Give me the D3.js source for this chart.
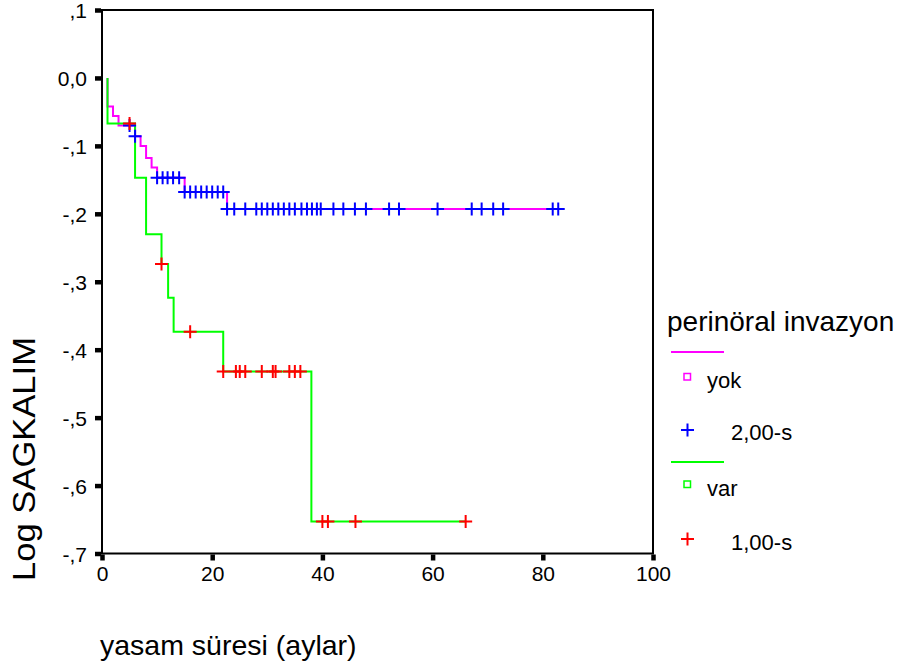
<!DOCTYPE html>
<html>
<head>
<meta charset="utf-8">
<script src="https://cdn.jsdelivr.net/npm/d3@7"></script>
<style>
  body { margin: 0; background: #fff; }
  text { font-family: Arial, "Liberation Sans", sans-serif; fill: #000; }
</style>
</head>
<body>
<div id="chart"></div>
<script>
// log survival step data
var yokTimes = [1, 2, 3, 6, 7, 8, 9, 10, 15, 22.7];
var yokLogS = [-0.042, -0.056, -0.070, -0.086, -0.100, -0.118, -0.132, -0.147, -0.168, -0.193];
var yokCensored = [5, 6, 10, 11, 11.9, 12.9, 14, 15, 16, 17, 18, 19, 20, 21, 22, 22.7,
  24, 26, 28, 29, 30, 31, 32, 33, 34, 35, 36.2, 37.2, 38.1, 39, 39.7, 42, 43.8, 45.9,
  47.9, 52.1, 53.9, 60.9, 67.1, 68.9, 71, 72.8, 81.8, 82.8];

var varTimes = [1, 6, 8, 10.8, 12, 13, 22, 38];
var varLogS = [-0.067, -0.147, -0.230, -0.274, -0.3235, -0.3735, -0.432, -0.653];
var varCensored = [5, 10.8, 16, 22, 24.3, 25, 26, 29, 31, 31.5, 34, 35, 36, 40, 41, 46, 66];

var yTicks = [0.1, 0, -0.1, -0.2, -0.3, -0.4, -0.5, -0.6, -0.7];
var yTickLabels = [",1", "0,0", "-,1", "-,2", "-,3", "-,4", "-,5", "-,6", "-,7"];
var xTicks = [0, 20, 40, 60, 80, 100];

var legendTitle = "perinöral invazyon";
var legendLabels = ["yok", "2,00-s", "var", "1,00-s"];

var width = 901, height = 669;
var svg = d3.select("#chart").append("svg")
  .attr("width", width)
  .attr("height", height);

svg.append("rect").attr("width", width).attr("height", height).attr("fill", "#fff");

// scales
var x = d3.scaleLinear().domain([0, 100]).range([102, 653]);
var y = d3.scaleLinear().domain([-0.7, 0.1]).range([553.5, 10]);

// frame
svg.append("rect")
  .attr("x", x(0)).attr("y", y(0.1))
  .attr("width", x(100) - x(0)).attr("height", y(-0.7) - y(0.1))
  .attr("fill", "none").attr("stroke", "#000").attr("stroke-width", 2);

// axes
var yAxis = d3.axisLeft(y)
  .tickValues(yTicks)
  .tickSize(6)
  .tickSizeOuter(0)
  .tickPadding(8)
  .tickFormat(function(d, i) { return yTickLabels[i]; });

var gy = svg.append("g").attr("transform", "translate(" + (x(0) - 1) + ",0)").call(yAxis);
gy.select(".domain").remove();
gy.selectAll(".tick line").attr("stroke-width", 4.5);
gy.selectAll(".tick text").style("font-size", "21px").attr("dy", "0.36em");

var xAxis = d3.axisBottom(x)
  .tickValues(xTicks)
  .tickSize(6)
  .tickSizeOuter(0)
  .tickPadding(6);

var gx = svg.append("g").attr("transform", "translate(0," + (y(-0.7) + 1) + ")").call(xAxis);
gx.select(".domain").remove();
gx.selectAll(".tick line").attr("stroke-width", 4.5);
gx.selectAll(".tick text").style("font-size", "21px");

// axis titles
svg.append("text")
  .attr("x", 100).attr("y", 655)
  .style("font-size", "28.5px")
  .text("yasam süresi (aylar)");

svg.append("text")
  .attr("transform", "translate(35,459) rotate(-90)")
  .attr("text-anchor", "middle")
  .attr("textLength", 244)
  .attr("lengthAdjust", "spacingAndGlyphs")
  .style("font-size", "31px")
  .text("Log SAGKALIM");

// step curves
function stepPoints(times, vals, tEnd) {
  var pts = [[times[0], 0]];
  times.forEach(function(t, i) { pts.push([t, vals[i]]); });
  pts.push([tEnd, vals[vals.length - 1]]);
  return pts;
}

function levelAt(times, vals, t) {
  var v = 0;
  times.forEach(function(tt, i) { if (tt <= t) v = vals[i]; });
  return v;
}

var line = d3.line()
  .x(function(d) { return x(d[0]); })
  .y(function(d) { return y(d[1]); })
  .curve(d3.curveStepAfter);

svg.append("path")
  .datum(stepPoints(yokTimes, yokLogS, d3.max(yokCensored)))
  .attr("d", line)
  .attr("fill", "none").attr("stroke", "#ff00ff").attr("stroke-width", 2);

svg.append("path")
  .datum(stepPoints(varTimes, varLogS, d3.max(varCensored)))
  .attr("d", line)
  .attr("fill", "none").attr("stroke", "#00ff00").attr("stroke-width", 2);

// censor marks
function plus(cx, cy) {
  return "M" + (cx - 6.5) + "," + cy + "H" + (cx + 6.5) +
    "M" + cx + "," + (cy - 6.5) + "V" + (cy + 6.5);
}

svg.append("g").selectAll("path")
  .data(yokCensored)
  .enter().append("path")
  .attr("d", function(t) { return plus(x(t), y(levelAt(yokTimes, yokLogS, t))); })
  .attr("stroke", "#0000ff").attr("stroke-width", 2).attr("fill", "none");

svg.append("g").selectAll("path")
  .data(varCensored)
  .enter().append("path")
  .attr("d", function(t) { return plus(x(t), y(levelAt(varTimes, varLogS, t))); })
  .attr("stroke", "#ff0000").attr("stroke-width", 2).attr("fill", "none");

// legend
var lg = svg.append("g");
lg.append("text").attr("x", 667).attr("y", 331).style("font-size", "28px").text(legendTitle);

lg.append("line").attr("x1", 671).attr("x2", 724).attr("y1", 352).attr("y2", 352)
  .attr("stroke", "#ff00ff").attr("stroke-width", 2);
lg.append("rect").attr("x", 684).attr("y", 373.5).attr("width", 6.5).attr("height", 6.5)
  .attr("fill", "none").attr("stroke", "#ff00ff").attr("stroke-width", 1.5);
lg.append("text").attr("x", 707).attr("y", 388).style("font-size", "22px").text(legendLabels[0]);

lg.append("path").attr("d", plus(687.5, 430))
  .attr("stroke", "#0000ff").attr("stroke-width", 2);
lg.append("text").attr("x", 731).attr("y", 440).style("font-size", "22px").text(legendLabels[1]);

lg.append("line").attr("x1", 671).attr("x2", 724).attr("y1", 462).attr("y2", 462)
  .attr("stroke", "#00ff00").attr("stroke-width", 2);
lg.append("rect").attr("x", 684).attr("y", 481).attr("width", 6.5).attr("height", 6.5)
  .attr("fill", "none").attr("stroke", "#00ff00").attr("stroke-width", 1.5);
lg.append("text").attr("x", 707).attr("y", 496).style("font-size", "22px").text(legendLabels[2]);

lg.append("path").attr("d", plus(687.5, 539))
  .attr("stroke", "#ff0000").attr("stroke-width", 2);
lg.append("text").attr("x", 731).attr("y", 550).style("font-size", "22px").text(legendLabels[3]);
</script>
</body>
</html>
